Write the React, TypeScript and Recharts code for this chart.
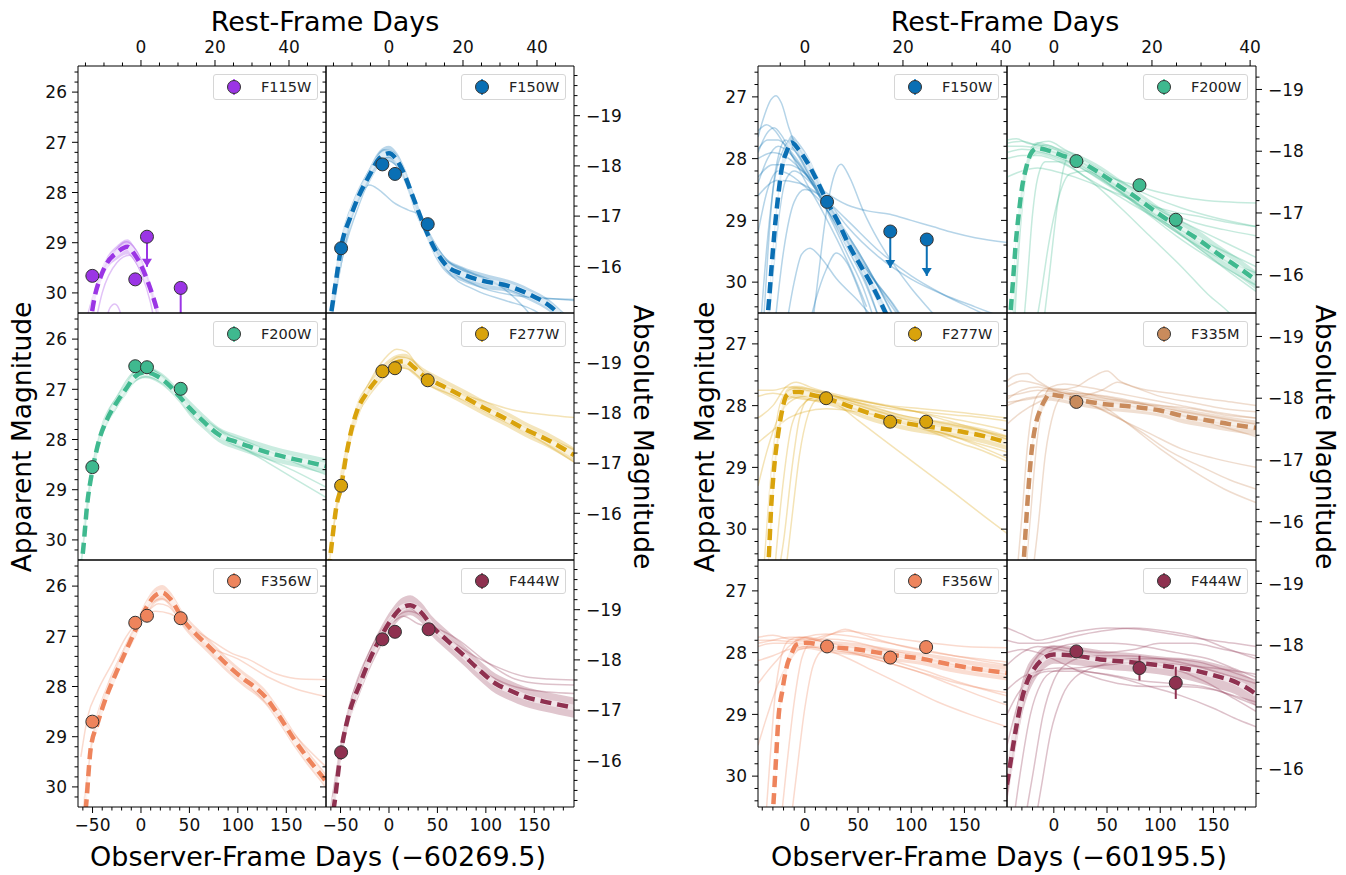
import React from 'react';
import { ComposedChart, Line, Area, Scatter, ErrorBar, XAxis, YAxis } from 'recharts';

type Pair = [number, number];
type Trip = [number, number, number];

// filter colours
const C115 = '#9b35e5';
const C150 = '#0a6fb4';
const C200 = '#3fb98f';
const C277 = '#d9a30c';
const C335 = '#c98b5c';
const C356 = '#ee845c';
const C444 = '#8f3150';

// axis ranges / ticks
const leftObsRange: Pair = [-65, 191];
const leftRestRange: Pair = [-17.02, 50.0];
const leftAppRange: Pair = [25.48, 30.4];
const leftAbsRange: Pair = [-19.99, -15.07];
const rightObsRange: Pair = [-44, 190];
const rightRestRange: Pair = [-9.54, 41.2];
const rightAppRange: Pair = [26.5, 30.5];
const rightAbsRange: Pair = [-19.38, -15.38];

const leftObsTicks = [-50, 0, 50, 100, 150];
const rightObsTicks = [0, 50, 100, 150];
const restTicks = [0, 20, 40];
const leftAppTicks = [26, 27, 28, 29, 30];
const rightAppTicks = [27, 28, 29, 30];
const absTicks = [-19, -18, -17, -16];

// ---------- left object: observer days - 60269.5 ----------
// medians: [day, mag, half width of band]
const l115Median: Trip[] = [[-53, 30.7, 0.1], [-48, 30.1, 0.12], [-42, 29.7, 0.12], [-35, 29.4, 0.12], [-25, 29.2, 0.14], [-14, 29.08, 0.15], [-6, 29.25, 0.15], [0, 29.45, 0.15], [6, 29.72, 0.14], [12, 30.05, 0.12], [18, 30.45, 0.12], [23, 30.9, 0.1]];
const l115Obs: Trip[] = [[-50.2, 29.66, 0.05], [-5.9, 29.73, 0.09]];
const l115Limits: Trip[] = [[6.2, 28.88, 0.6], [41, 29.9, 1.0]];
const l115Samples: Pair[][] = [
  [[-60, 30.8], [-45, 29.8], [-30, 29.25], [-15, 28.98], [-5, 29.15], [5, 29.6], [15, 30.3], [22, 30.9]],
  [[-40, 30.9], [-32, 30.3], [-27, 30.22], [-22, 30.35], [-17, 30.9]],
  [[-50, 30.9], [-40, 30.0], [-25, 29.4], [-12, 29.25], [0, 29.6], [10, 30.2], [16, 30.8]],
];

const l150Median: Trip[] = [[-62, 30.7, 0.1], [-55, 29.8, 0.12], [-49, 29.05, 0.12], [-40, 28.5, 0.12], [-33, 28.15, 0.12], [-20, 27.65, 0.15], [-10, 27.32, 0.15], [0, 27.22, 0.15], [8, 27.35, 0.15], [15, 27.6, 0.15], [25, 28.1, 0.12], [37, 28.7, 0.12], [48, 29.15, 0.15], [58, 29.43, 0.15], [75, 29.62, 0.15], [97, 29.76, 0.15], [123, 29.86, 0.12], [145, 30.03, 0.12], [166, 30.26, 0.12], [180, 30.5, 0.12], [191, 30.7, 0.12]];
const l150Obs: Trip[] = [[-49.4, 29.11, 0.06], [-6.8, 27.44, 0.05], [6.2, 27.63, 0.05], [40, 28.63, 0.05]];
const l150Samples: Pair[][] = [
  [[-62, 30.9], [-50, 29.4], [-35, 28.3], [-20, 27.85], [-10, 27.95], [5, 28.2], [20, 28.35], [32, 28.45], [45, 28.95], [60, 29.45], [90, 29.85], [130, 30.05], [160, 30.1], [191, 30.15]],
  [[-62, 30.6], [-50, 29.0], [-35, 28.1], [-20, 27.55], [-5, 27.15], [5, 27.2], [15, 27.5], [30, 28.3], [45, 28.95], [60, 29.35], [90, 29.65], [120, 29.9], [150, 30.1], [175, 30.12], [191, 30.13]],
  [[-60, 30.5], [-48, 29.3], [-30, 28.2], [-15, 27.55], [0, 27.3], [12, 27.55], [25, 28.15], [40, 28.8], [60, 29.55], [90, 29.95], [120, 30.15], [150, 30.35], [175, 30.7]],
  [[-58, 30.4], [-45, 29.0], [-25, 27.9], [-5, 27.35], [10, 27.5], [30, 28.5], [50, 29.2], [80, 29.55], [110, 29.8], [140, 30.3], [160, 30.8]],
];

const l200Median: Trip[] = [[-64, 30.6, 0.1], [-61, 30.4, 0.1], [-55, 29.2, 0.1], [-50, 28.6, 0.1], [-43, 28.0, 0.1], [-35, 27.6, 0.12], [-24, 27.23, 0.12], [-15, 26.98, 0.12], [-7, 26.76, 0.12], [4, 26.66, 0.12], [15, 26.72, 0.12], [28, 26.9, 0.12], [40, 27.15, 0.12], [50, 27.37, 0.15], [65, 27.65, 0.15], [80, 27.9, 0.15], [100, 28.06, 0.15], [115, 28.16, 0.15], [135, 28.28, 0.15], [158, 28.39, 0.15], [175, 28.46, 0.15], [191, 28.53, 0.15]];
const l200Obs: Trip[] = [[-50.2, 28.55, 0.05], [-5.9, 26.54, 0.04], [6.2, 26.56, 0.04], [41, 26.99, 0.04]];
const l200Samples: Pair[][] = [
  [[-62, 30.5], [-50, 28.5], [-40, 27.7], [-25, 27.15], [-10, 26.7], [3, 26.58], [15, 26.65], [30, 26.9], [45, 27.25], [60, 27.55], [80, 27.82], [100, 28.1], [130, 28.45], [160, 28.8], [191, 29.15]],
  [[-62, 30.5], [-50, 28.7], [-40, 27.9], [-25, 27.35], [-10, 26.9], [5, 26.75], [20, 26.85], [35, 27.1], [50, 27.45], [70, 27.8], [90, 28.05], [120, 28.3], [150, 28.55], [191, 28.95]],
  [[-60, 29.9], [-50, 28.5], [-38, 27.65], [-20, 27.05], [-5, 26.65], [8, 26.6], [25, 26.78], [45, 27.2], [60, 27.5], [85, 27.85], [110, 28.05], [140, 28.3], [170, 28.55], [191, 28.7]],
];

const l277Median: Trip[] = [[-62, 30.6, 0.12], [-58, 29.9, 0.15], [-54, 29.3, 0.15], [-50, 29.0, 0.15], [-44, 28.3, 0.15], [-38, 27.75, 0.15], [-33, 27.43, 0.15], [-22, 27.05, 0.15], [-11, 26.77, 0.15], [0, 26.55, 0.15], [10, 26.45, 0.15], [17, 26.44, 0.15], [25, 26.55, 0.15], [35, 26.72, 0.15], [45, 26.83, 0.15], [60, 26.98, 0.15], [80, 27.18, 0.15], [97, 27.36, 0.15], [120, 27.58, 0.15], [140, 27.79, 0.15], [165, 28.02, 0.15], [191, 28.31, 0.15]];
const l277Obs: Trip[] = [[-49.4, 28.92, 0.06], [-6.8, 26.64, 0.04], [6.2, 26.58, 0.04], [40, 26.82, 0.04]];
const l277Samples: Pair[][] = [
  [[-62, 30.5], [-50, 28.8], [-35, 27.5], [-20, 26.85], [-5, 26.4], [8, 26.2], [18, 26.25], [30, 26.55], [45, 26.8], [70, 27.05], [100, 27.25], [130, 27.42], [160, 27.5], [191, 27.56]],
  [[-60, 30.2], [-48, 28.5], [-35, 27.6], [-20, 27.0], [-5, 26.6], [10, 26.35], [22, 26.4], [40, 26.75], [70, 27.05], [100, 27.35], [140, 27.75], [191, 28.2]],
  [[-62, 30.3], [-50, 28.95], [-40, 28.05], [-25, 27.2], [-10, 26.8], [5, 26.55], [20, 26.6], [40, 26.9], [70, 27.15], [110, 27.55], [150, 27.95], [191, 28.45]],
];

const l356Median: Trip[] = [[-59, 30.8, 0.1], [-56.8, 30.4, 0.1], [-52, 29.25, 0.12], [-45, 28.75, 0.12], [-37, 28.27, 0.12], [-25, 27.7, 0.12], [-15, 27.27, 0.12], [-5, 26.85, 0.15], [6, 26.41, 0.15], [14, 26.2, 0.15], [22, 26.13, 0.15], [30, 26.25, 0.15], [45, 26.71, 0.15], [58, 26.98, 0.15], [71, 27.22, 0.15], [88, 27.55, 0.15], [106, 27.85, 0.15], [118, 28.02, 0.15], [128, 28.2, 0.15], [143, 28.6, 0.15], [158, 29.05, 0.15], [173, 29.45, 0.15], [189, 29.84, 0.15], [195, 30.0, 0.15]];
const l356Obs: Trip[] = [[-50.2, 28.7, 0.05], [-5.9, 26.73, 0.05], [6.2, 26.59, 0.05], [41, 26.64, 0.05]];
const l356Samples: Pair[][] = [
  [[-62, 29.4], [-55, 28.6], [-45, 28.1], [-30, 27.55], [-15, 27.0], [0, 26.65], [15, 26.5], [30, 26.55], [45, 26.75], [70, 27.05], [95, 27.35], [110, 27.45], [140, 27.75], [165, 27.85], [191, 27.86]],
  [[-60, 30.6], [-52, 29.3], [-40, 28.35], [-25, 27.6], [-10, 26.95], [5, 26.55], [18, 26.35], [28, 26.4], [45, 26.8], [70, 27.2], [100, 27.45], [130, 27.8], [160, 28.05], [191, 28.2]],
  [[-60, 30.5], [-50, 29.0], [-35, 28.0], [-20, 27.35], [-5, 26.8], [10, 26.35], [22, 26.25], [35, 26.45], [50, 26.85], [80, 27.45], [110, 27.95], [140, 28.55], [170, 29.2], [191, 29.6]],
];

const l444Median: Trip[] = [[-60, 30.8, 0.12], [-56.8, 30.4, 0.15], [-50, 29.35, 0.2], [-42, 28.6, 0.2], [-30, 27.95, 0.2], [-20, 27.47, 0.2], [-8, 27.0, 0.2], [2, 26.68, 0.2], [12, 26.45, 0.2], [22, 26.38, 0.2], [32, 26.5, 0.2], [45, 26.81, 0.2], [60, 27.08, 0.2], [75, 27.34, 0.2], [92, 27.65, 0.2], [110, 27.94, 0.2], [125, 28.08, 0.2], [140, 28.2, 0.2], [160, 28.3, 0.2], [175, 28.36, 0.2], [191, 28.42, 0.2]];
const l444Obs: Trip[] = [[-49.4, 29.31, 0.06], [-6.8, 27.06, 0.05], [6.2, 26.91, 0.05], [40.9, 26.86, 0.05]];
const l444Samples: Pair[][] = [
  [[-60, 30.4], [-50, 29.2], [-40, 28.4], [-25, 27.6], [-10, 27.0], [5, 26.65], [20, 26.5], [35, 26.6], [55, 26.95], [80, 27.3], [110, 27.6], [140, 27.8], [165, 27.85], [191, 27.87]],
  [[-62, 30.9], [-52, 29.6], [-40, 28.55], [-25, 27.7], [-10, 27.05], [5, 26.7], [15, 26.6], [30, 26.75], [50, 26.85], [70, 27.05], [100, 27.5], [130, 27.85], [160, 27.95], [191, 27.97]],
  [[-58, 30.2], [-48, 29.0], [-35, 28.0], [-20, 27.3], [-5, 26.8], [10, 26.5], [20, 26.42], [30, 26.55], [50, 26.95], [80, 27.45], [110, 27.85], [140, 28.05], [191, 28.14]],
];

// ---------- right object: observer days - 60195.5 ----------
const r150Median: Trip[] = [[-38, 31.0, 0.05], [-34.4, 30.45, 0.08], [-31, 29.7, 0.1], [-28, 29.09, 0.1], [-25, 28.6, 0.1], [-21.8, 28.17, 0.12], [-17, 27.88, 0.12], [-12.5, 27.74, 0.12], [-6, 27.85, 0.12], [2, 28.05, 0.12], [11, 28.34, 0.1], [21, 28.7, 0.1], [32, 29.05, 0.1], [42, 29.42, 0.1], [52, 29.72, 0.1], [63, 30.05, 0.1], [73, 30.39, 0.1], [80, 30.65, 0.1]];
const r150Obs: Trip[] = [[20.9, 28.7, 0.05]];
const r150Limits: Trip[] = [[80.3, 29.18, 0.59], [114.6, 29.31, 0.59]];
const r150Samples: Pair[][] = [
  [[-44, 27.65], [-38, 27.3], [-32, 27.05], [-27, 26.98], [-22, 27.1], [-15, 27.5], [-5, 27.95], [10, 28.45], [25, 28.95], [40, 29.45], [55, 29.95], [70, 30.6]],
  [[-44, 27.55], [-36, 27.45], [-28, 27.55], [-20, 27.75], [-10, 28.0], [5, 28.35], [20, 28.7], [35, 29.1], [50, 29.5], [65, 29.95], [80, 30.45], [90, 30.8]],
  [[-44, 28.3], [-30, 28.1], [-15, 28.1], [-5, 28.17], [20, 28.55], [40, 28.75], [60, 28.85], [80, 28.9], [100, 29.0], [120, 29.1], [140, 29.2], [160, 29.28], [190, 29.36]],
  [[5, 31.0], [12, 30.0], [20, 28.9], [28, 28.25], [34, 28.09], [42, 28.3], [55, 28.85], [70, 29.35], [85, 29.75], [100, 30.1], [120, 30.5], [140, 30.9]],
  [[0, 31.0], [10, 30.3], [20, 29.8], [29.5, 29.53], [40, 29.7], [50, 30.1], [60, 30.6]],
  [[-44, 28.4], [-35, 28.0], [-25, 27.8], [-15, 27.9], [-5, 28.1], [10, 28.5], [25, 29.0], [40, 29.55], [55, 30.1], [65, 30.6]],
  [[-44, 29.2], [-35, 28.5], [-25, 28.2], [-15, 28.25], [0, 28.45], [15, 28.7], [30, 29.05], [50, 29.6], [70, 30.1], [90, 30.6]],
  [[-42, 30.8], [-35, 29.3], [-28, 28.3], [-20, 27.85], [-12, 27.7], [-5, 27.85], [5, 28.15], [20, 28.65], [35, 29.15], [50, 29.7], [62, 30.2], [70, 30.6]],
  [[-30, 31.0], [-20, 29.5], [-10, 28.7], [0, 28.5], [10, 28.55], [25, 28.85], [45, 29.4], [65, 29.95], [85, 30.4], [100, 30.8]],
  [[-44, 27.85], [-35, 27.7], [-25, 27.7], [-15, 27.85], [0, 28.2], [20, 28.8], [40, 29.35], [60, 29.85], [80, 30.3], [95, 30.7]],
  [[-44, 28.0], [-30, 27.9], [-15, 28.0], [0, 28.25], [20, 28.65], [40, 29.1], [70, 29.6], [100, 29.95], [130, 30.2], [160, 30.4], [190, 30.6]],
  [[-20, 31.0], [-10, 30.0], [-3, 29.55], [5, 29.45], [15, 29.6], [30, 29.95], [50, 30.3], [70, 30.7]],
  [[-44, 28.6], [-25, 28.35], [-5, 28.4], [15, 28.6], [40, 29.0], [70, 29.5], [100, 29.9], [130, 30.2], [160, 30.45], [190, 30.7]],
  [[-40, 31.0], [-35, 29.6], [-30, 28.5], [-24, 27.9], [-18, 27.7], [-10, 27.85], [0, 28.15], [15, 28.55], [30, 28.95], [50, 29.5], [70, 30.1], [85, 30.6]],
  [[-44, 27.9], [-36, 27.6], [-29, 27.5], [-22, 27.62], [-12, 27.95], [0, 28.35], [15, 28.8], [30, 29.3], [45, 29.85], [58, 30.4]],
  [[-36, 31.0], [-30, 29.9], [-24, 28.9], [-18, 28.35], [-10, 28.2], [0, 28.3], [15, 28.6], [35, 29.2], [55, 29.8], [75, 30.4]],
];

const r200Median: Trip[] = [[-43, 31.0, 0.05], [-40.7, 30.5, 0.05], [-38, 29.9, 0.08], [-36, 29.42, 0.1], [-33, 28.9, 0.1], [-29.7, 28.45, 0.1], [-26, 28.15, 0.1], [-22, 27.93, 0.1], [-15.7, 27.83, 0.1], [-5, 27.87, 0.1], [8, 27.95, 0.1], [21, 28.02, 0.1], [40, 28.2, 0.12], [60, 28.43, 0.12], [75, 28.6, 0.12], [95, 28.85, 0.12], [115.5, 29.09, 0.12], [135, 29.3, 0.15], [155, 29.55, 0.15], [175, 29.78, 0.15], [190, 29.97, 0.15]];
const r200Obs: Trip[] = [[21.2, 28.04, 0.05], [80.5, 28.43, 0.06], [114.6, 28.99, 0.06]];
const r200Samples: Pair[][] = [
  [[-44, 27.7], [-35, 27.68], [-25, 27.75], [-15, 27.78], [0, 27.85], [20, 28.0], [45, 28.25], [70, 28.4], [100, 28.55], [130, 28.65], [160, 28.7], [190, 28.72]],
  [[-44, 27.75], [-30, 27.72], [-15, 27.8], [0, 27.9], [20, 28.05], [45, 28.3], [75, 28.6], [105, 28.85], [135, 29.05], [160, 29.15], [190, 29.25]],
  [[-44, 27.9], [-30, 27.85], [-15, 27.88], [5, 27.98], [25, 28.15], [50, 28.4], [80, 28.75], [110, 29.05], [140, 29.4], [165, 29.7], [190, 30.0]],
  [[-12, 31.0], [-5, 30.0], [3, 28.8], [10, 28.1], [15, 27.95], [25, 28.05], [50, 28.35], [80, 28.7], [110, 29.1], [140, 29.5], [170, 29.9], [190, 30.15]],
  [[-44, 28.0], [-30, 27.95], [-15, 27.95], [5, 28.05], [30, 28.3], [60, 28.75], [90, 29.25], [120, 29.75], [145, 30.2], [165, 30.5], [175, 30.7]],
  [[-40, 31.0], [-35, 29.7], [-30, 28.6], [-25, 28.05], [-18, 27.82], [-8, 27.78], [10, 27.9], [35, 28.15], [65, 28.5], [95, 28.8], [130, 29.1], [160, 29.35], [190, 29.6]],
  [[-30, 31.0], [-25, 30.0], [-20, 28.9], [-15, 28.3], [-8, 28.05], [5, 28.05], [30, 28.3], [60, 28.6], [95, 28.95], [130, 29.25], [160, 29.5], [190, 29.75]],
  [[-44, 28.3], [-30, 28.2], [-15, 28.15], [0, 28.2], [20, 28.3], [50, 28.5], [80, 28.7], [110, 28.85], [140, 28.95], [170, 29.05], [190, 29.1]],
  [[-38, 31.0], [-33, 29.5], [-28, 28.5], [-22, 27.95], [-15, 27.75], [-5, 27.72], [10, 27.85], [30, 28.05], [60, 28.35], [90, 28.6], [120, 28.8], [150, 28.95], [190, 29.1]],
  [[-20, 31.0], [-12, 30.2], [-5, 29.4], [5, 28.6], [15, 28.25], [30, 28.2], [55, 28.45], [85, 28.85], [115, 29.25], [150, 29.65], [190, 30.05]],
  [[-44, 27.8], [-30, 27.8], [-10, 27.85], [10, 27.95], [35, 28.2], [65, 28.55], [95, 28.95], [125, 29.3], [155, 29.6], [190, 29.85]],
];

const r277Median: Trip[] = [[-36, 31.0, 0.05], [-34, 30.5, 0.08], [-31.5, 29.6, 0.1], [-28.7, 28.98, 0.1], [-25, 28.45, 0.1], [-21, 28.05, 0.1], [-17.3, 27.84, 0.1], [-10, 27.78, 0.1], [-5, 27.78, 0.1], [5, 27.82, 0.1], [20, 27.88, 0.1], [40, 28.0, 0.1], [60, 28.12, 0.12], [80, 28.22, 0.12], [100, 28.3, 0.12], [120, 28.35, 0.12], [150, 28.43, 0.12], [170, 28.5, 0.12], [190, 28.6, 0.12]];
const r277Obs: Trip[] = [[20, 27.88, 0.05], [80.2, 28.26, 0.06], [114, 28.26, 0.06]];
const r277Samples: Pair[][] = [
  [[-44, 27.75], [-30, 27.75], [-15, 27.7], [0, 27.72], [20, 27.8], [50, 27.95], [80, 28.05], [110, 28.1], [140, 28.15], [170, 28.2], [190, 28.25]],
  [[-44, 27.85], [-30, 27.8], [-15, 27.85], [0, 27.9], [25, 27.95], [55, 28.1], [85, 28.25], [115, 28.4], [145, 28.6], [170, 28.75], [190, 28.9]],
  [[-30, 31.0], [-22, 29.5], [-12, 28.3], [0, 27.95], [12, 27.85], [28, 27.95], [50, 28.24], [80, 28.63], [110, 29.02], [140, 29.41], [170, 29.81], [190, 30.07]],
  [[-28, 31.0], [-20, 30.2], [-12, 29.0], [-5, 28.2], [3, 27.9], [15, 27.85], [40, 27.95], [70, 28.1], [100, 28.25], [130, 28.35], [160, 28.45], [190, 28.55]],
  [[-44, 28.2], [-30, 28.0], [-18, 27.7], [-8, 27.62], [5, 27.7], [25, 27.8], [50, 27.9], [80, 28.0], [110, 28.05], [140, 28.1], [190, 28.2]],
  [[-40, 31.0], [-35, 29.8], [-30, 28.8], [-25, 28.1], [-18, 27.8], [-8, 27.72], [10, 27.82], [35, 27.98], [65, 28.15], [95, 28.3], [130, 28.45], [160, 28.6], [190, 28.75]],
  [[-44, 28.6], [-30, 28.4], [-15, 28.2], [0, 28.1], [20, 28.05], [50, 28.1], [80, 28.2], [110, 28.35], [140, 28.5], [170, 28.7], [190, 28.85]],
  [[-20, 31.0], [-12, 29.8], [-5, 28.8], [3, 28.15], [12, 27.9], [30, 27.88], [60, 28.0], [90, 28.15], [120, 28.25], [150, 28.35], [190, 28.5]],
  [[-44, 29.3], [-35, 28.7], [-25, 28.2], [-15, 27.95], [0, 27.85], [20, 27.85], [45, 27.9], [75, 28.0], [105, 28.1], [135, 28.25], [165, 28.4], [190, 28.55]],
  [[-36, 31.0], [-32, 30.0], [-28, 29.0], [-22, 28.2], [-15, 27.85], [-5, 27.75], [10, 27.78], [30, 27.85], [60, 27.95], [90, 28.05], [120, 28.15], [150, 28.25], [190, 28.4]],
];

const r335Median: Trip[] = [[-30, 31.0, 0.05], [-28.2, 30.5, 0.05], [-24.5, 29.5, 0.08], [-21, 28.76, 0.1], [-17, 28.3, 0.1], [-12.6, 28.06, 0.1], [-8, 27.9, 0.1], [-4.8, 27.82, 0.1], [5, 27.84, 0.1], [21, 27.9, 0.1], [45, 27.97, 0.1], [75, 28.02, 0.1], [100, 28.08, 0.1], [122, 28.17, 0.12], [145, 28.24, 0.12], [165, 28.3, 0.12], [190, 28.36, 0.12]];
const r335Obs: Trip[] = [[21.2, 27.94, 0.05]];
const r335Samples: Pair[][] = [
  [[-44, 27.9], [-30, 27.75], [-15, 27.7], [0, 27.75], [20, 27.7], [35, 27.55], [50, 27.44], [62, 27.6], [80, 27.72], [110, 27.8], [140, 27.88], [170, 27.95], [190, 28.0]],
  [[-44, 27.7], [-30, 27.6], [-15, 27.65], [0, 27.75], [20, 27.85], [45, 28.0], [70, 28.3], [100, 28.7], [130, 29.05], [160, 29.35], [190, 29.57]],
  [[-44, 27.6], [-35, 27.5], [-25, 27.48], [-15, 27.6], [0, 27.75], [25, 27.85], [55, 27.95], [85, 28.05], [115, 28.15], [145, 28.25], [190, 28.4]],
  [[-22, 31.0], [-15, 30.0], [-8, 28.8], [0, 28.1], [8, 27.85], [20, 27.8], [45, 27.85], [75, 27.95], [105, 28.05], [140, 28.15], [190, 28.3]],
  [[-44, 28.0], [-30, 27.9], [-15, 27.85], [0, 27.8], [20, 27.8], [50, 27.85], [80, 27.95], [110, 28.1], [140, 28.25], [170, 28.4], [190, 28.5]],
  [[-28, 31.0], [-22, 29.8], [-16, 28.6], [-10, 27.95], [-3, 27.7], [10, 27.65], [30, 27.7], [60, 27.8], [90, 27.9], [120, 28.0], [150, 28.1], [190, 28.2]],
  [[-44, 27.85], [-30, 27.8], [-15, 27.75], [5, 27.8], [30, 27.95], [60, 28.2], [90, 28.45], [120, 28.7], [150, 28.85], [190, 29.0]],
  [[-36, 31.0], [-30, 29.8], [-25, 28.7], [-20, 28.05], [-14, 27.8], [-5, 27.72], [15, 27.75], [40, 27.85], [70, 27.95], [100, 28.0], [130, 28.05], [160, 28.15], [190, 28.2]],
  [[-44, 28.3], [-30, 28.1], [-15, 27.95], [0, 27.85], [20, 27.85], [45, 27.75], [60, 27.62], [75, 27.7], [100, 27.85], [130, 27.95], [160, 28.05], [190, 28.1]],
  [[-44, 27.95], [-25, 27.9], [-5, 27.85], [20, 27.9], [50, 28.1], [80, 28.4], [110, 28.75], [140, 29.0], [165, 29.2], [190, 29.35]],
];

const r356Median: Trip[] = [[-32, 31.0, 0.05], [-29.7, 30.5, 0.05], [-27, 29.7, 0.08], [-25, 29.11, 0.1], [-21, 28.6, 0.1], [-17.2, 28.24, 0.1], [-12, 28.0, 0.1], [-7.9, 27.87, 0.1], [1.6, 27.84, 0.1], [21, 27.9, 0.1], [50, 27.95, 0.1], [80, 28.03, 0.1], [110, 28.1, 0.1], [136, 28.19, 0.12], [160, 28.26, 0.12], [190, 28.33, 0.12]];
const r356Obs: Trip[] = [[20.9, 27.9, 0.05], [80.3, 28.08, 0.05], [114, 27.91, 0.06]];
const r356Samples: Pair[][] = [
  [[-44, 27.75], [-30, 27.72], [-15, 27.78], [0, 27.8], [20, 27.72], [40, 27.65], [60, 27.7], [90, 27.78], [120, 27.85], [150, 27.9], [190, 27.92]],
  [[-44, 27.9], [-30, 27.85], [-10, 27.85], [10, 27.9], [35, 28.05], [65, 28.3], [95, 28.55], [125, 28.8], [155, 29.0], [190, 29.2]],
  [[-44, 28.13], [-30, 28.05], [-15, 27.95], [0, 27.9], [25, 27.95], [55, 28.05], [85, 28.2], [115, 28.35], [145, 28.5], [190, 28.65]],
  [[-24, 31.0], [-18, 30.0], [-10, 28.8], [-3, 28.1], [5, 27.85], [20, 27.78], [45, 27.82], [75, 27.95], [105, 28.05], [140, 28.2], [190, 28.35]],
  [[-44, 28.5], [-35, 28.3], [-25, 28.1], [-15, 27.9], [0, 27.75], [20, 27.7], [50, 27.75], [80, 27.85], [110, 27.95], [140, 28.05], [190, 28.2]],
  [[-38, 31.0], [-33, 29.8], [-28, 28.7], [-22, 28.05], [-15, 27.8], [-5, 27.75], [15, 27.82], [40, 27.9], [70, 28.0], [100, 28.1], [130, 28.2], [160, 28.28], [190, 28.35]],
  [[-44, 27.8], [-30, 27.8], [-10, 27.82], [10, 27.8], [25, 27.7], [38, 27.62], [50, 27.68], [75, 27.82], [105, 27.95], [140, 28.05], [190, 28.15]],
  [[-44, 29.5], [-35, 29.0], [-25, 28.5], [-15, 28.15], [-5, 27.95], [15, 27.9], [45, 27.98], [75, 28.1], [105, 28.25], [140, 28.45], [190, 28.7]],
  [[-15, 31.0], [-8, 30.0], [0, 28.9], [8, 28.2], [18, 27.95], [35, 27.9], [65, 27.95], [95, 28.05], [125, 28.15], [160, 28.25], [190, 28.3]],
  [[-44, 27.85], [-30, 27.8], [-15, 27.75], [0, 27.75], [20, 27.85], [45, 28.0], [75, 28.15], [105, 28.3], [135, 28.5], [165, 28.7], [190, 28.85]],
];

const r444Median: Trip[] = [[-44, 30.14, 0.3], [-40, 29.7, 0.3], [-34.4, 29.12, 0.3], [-30, 28.75, 0.28], [-25, 28.47, 0.25], [-18, 28.25, 0.2], [-9.5, 28.09, 0.18], [0, 28.03, 0.15], [20, 28.05, 0.15], [43.6, 28.11, 0.15], [75, 28.16, 0.15], [106, 28.22, 0.15], [130, 28.28, 0.18], [153, 28.38, 0.2], [170, 28.47, 0.2], [184, 28.6, 0.2], [190, 28.67, 0.2]];
const r444Obs: Trip[] = [[21.2, 27.98, 0.05], [80.5, 28.25, 0.2], [114.6, 28.49, 0.26]];
const r444Samples: Pair[][] = [
  [[-44, 27.6], [-30, 27.7], [-15, 27.8], [0, 27.75], [25, 27.65], [50, 27.6], [80, 27.62], [110, 27.7], [140, 27.78], [170, 27.85], [190, 27.9]],
  [[-44, 27.8], [-30, 27.85], [-10, 27.85], [15, 27.75], [45, 27.65], [75, 27.6], [105, 27.65], [135, 27.75], [165, 27.95], [190, 28.1]],
  [[-44, 28.6], [-30, 28.4], [-15, 28.3], [5, 28.25], [30, 28.3], [60, 28.4], [90, 28.55], [120, 28.7], [150, 28.9], [175, 29.1], [190, 29.2]],
  [[-30, 31.0], [-20, 30.0], [-10, 29.0], [0, 28.45], [15, 28.15], [35, 28.05], [65, 28.05], [100, 28.1], [130, 28.2], [160, 28.35], [190, 28.5]],
  [[-44, 29.0], [-35, 28.7], [-20, 28.4], [-5, 28.3], [20, 28.3], [50, 28.35], [80, 28.45], [110, 28.5], [140, 28.55], [170, 28.7], [190, 28.8]],
  [[-44, 30.3], [-35, 29.3], [-25, 28.6], [-15, 28.2], [0, 27.95], [25, 27.85], [55, 27.85], [85, 27.9], [115, 28.0], [145, 28.1], [175, 28.3], [190, 28.4]],
  [[-40, 31.0], [-32, 30.0], [-22, 29.0], [-12, 28.5], [0, 28.3], [20, 28.25], [50, 28.2], [80, 28.15], [110, 28.25], [140, 28.45], [170, 28.75], [190, 28.95]],
  [[-44, 28.2], [-30, 28.0], [-15, 27.9], [5, 27.95], [30, 28.05], [60, 28.1], [90, 28.15], [120, 28.2], [150, 28.25], [190, 28.35]],
  [[-20, 31.0], [-12, 30.2], [-3, 29.3], [8, 28.7], [20, 28.4], [45, 28.2], [75, 28.1], [105, 28.1], [135, 28.15], [165, 28.3], [190, 28.45]],
  [[-44, 29.5], [-35, 28.9], [-25, 28.35], [-15, 28.05], [0, 27.9], [20, 27.95], [45, 28.0], [75, 27.95], [100, 27.85], [130, 27.85], [160, 27.95], [190, 28.05]],
  [[-44, 28.0], [-30, 27.95], [-15, 28.0], [5, 28.15], [30, 28.35], [60, 28.5], [90, 28.55], [120, 28.55], [150, 28.6], [175, 28.75], [190, 28.85]],
];

// ---------- layout ----------
const FONT = "'DejaVu Sans', sans-serif";
const ROW_TOP = [66, 313, 560];
const ROW_H = 247;
const PAD = 60;
const AX = 1; // axes need a non-zero size to be drawn

const steps = (a: number, b: number, s: number) => {
  const out: number[] = [];
  for (let k = 0; a + k * s <= b + 1e-9; k++) out.push(Math.round((a + k * s) * 1000) / 1000);
  return out;
};

const figs = [
  {
    cols: [78, 326], w: 248,
    obs: leftObsRange, rest: leftRestRange, app: leftAppRange, abs: leftAbsRange,
    obsMajor: leftObsTicks, obsAll: steps(-60, 180, 10),
    restAll: steps(-15, 45, 5),
    appMajor: leftAppTicks, appAll: steps(25.6, 30.2, 0.2),
    absAll: steps(-19.8, -15.2, 0.2),
    panels: [
      { name: 'F115W', color: C115, samples: l115Samples, median: l115Median, obs: l115Obs, limits: l115Limits },
      { name: 'F150W', color: C150, samples: l150Samples, median: l150Median, obs: l150Obs, limits: [] },
      { name: 'F200W', color: C200, samples: l200Samples, median: l200Median, obs: l200Obs, limits: [] },
      { name: 'F277W', color: C277, samples: l277Samples, median: l277Median, obs: l277Obs, limits: [] },
      { name: 'F356W', color: C356, samples: l356Samples, median: l356Median, obs: l356Obs, limits: [] },
      { name: 'F444W', color: C444, samples: l444Samples, median: l444Median, obs: l444Obs, limits: [] },
    ],
  },
  {
    cols: [758, 1007], w: 249,
    obs: rightObsRange, rest: rightRestRange, app: rightAppRange, abs: rightAbsRange,
    obsMajor: rightObsTicks, obsAll: steps(-40, 180, 10),
    restAll: steps(-5, 40, 5),
    appMajor: rightAppTicks, appAll: steps(26.6, 30.4, 0.2),
    absAll: steps(-19.2, -15.6, 0.2),
    panels: [
      { name: 'F150W', color: C150, samples: r150Samples, median: r150Median, obs: r150Obs, limits: r150Limits },
      { name: 'F200W', color: C200, samples: r200Samples, median: r200Median, obs: r200Obs, limits: [] },
      { name: 'F277W', color: C277, samples: r277Samples, median: r277Median, obs: r277Obs, limits: [] },
      { name: 'F335M', color: C335, samples: r335Samples, median: r335Median, obs: r335Obs, limits: [] },
      { name: 'F356W', color: C356, samples: r356Samples, median: r356Median, obs: r356Obs, limits: [] },
      { name: 'F444W', color: C444, samples: r444Samples, median: r444Median, obs: r444Obs, limits: [] },
    ],
  },
];

const fmt = (v: number) => (v < 0 ? '\u2212' + Math.abs(v) : String(v));

// matplotlib-like outward ticks, minor ones shorter, labels only on majors
const makeTick = (side: string, majors: number[], labels: boolean) => (props: any) => {
  const { x, y, payload } = props;
  const v = payload.value as number;
  const major = majors.some((m) => Math.abs(m - v) < 1e-6);
  const len = major ? 6 : 3.5;
  const show = labels && major;
  const ts = { fontSize: 17, fontFamily: FONT, fill: '#111' };
  if (side === 'left')
    return (
      <g>
        <line x1={x - len} x2={x} y1={y} y2={y} stroke="#000" />
        {show && <text x={x - 11} y={y + 6.2} textAnchor="end" {...ts}>{fmt(v)}</text>}
      </g>
    );
  if (side === 'right')
    return (
      <g>
        <line x1={x} x2={x + len} y1={y} y2={y} stroke="#000" />
        {show && <text x={x + 12} y={y + 6.2} textAnchor="start" {...ts}>{fmt(v)}</text>}
      </g>
    );
  if (side === 'top')
    return (
      <g>
        <line x1={x} x2={x} y1={y - len} y2={y} stroke="#000" />
        {show && <text x={x} y={y - 13} textAnchor="middle" {...ts}>{fmt(v)}</text>}
      </g>
    );
  return (
    <g>
      <line x1={x} x2={x} y1={y} y2={y + len} stroke="#000" />
      {show && <text x={x} y={y + 23.5} textAnchor="middle" {...ts}>{fmt(v)}</text>}
    </g>
  );
};

const LegendBox = ({ name, color, left, top }: any) => (
  <div style={{ position: 'absolute', left, top, width: 105, height: 26, boxSizing: 'border-box', border: '1px solid #d6d6d6', borderRadius: 3, background: 'rgba(255,255,255,0.85)' }}>
    <svg width={40} height={26} style={{ position: 'absolute', left: 0, top: -1 }}>
      <line x1={20} x2={20} y1={5} y2={21} stroke={color} strokeWidth={1.5} />
      <circle cx={20} cy={13} r={6.5} fill={color} stroke="#333" strokeWidth={1} />
    </svg>
    <span style={{ position: 'absolute', left: 47, top: 3, fontSize: 14.5, lineHeight: '18px', fontFamily: FONT, color: '#222' }}>{name}</span>
  </div>
);

function Panel({ fig, p, row, col }: any) {
  const left = fig.cols[col];
  const top = ROW_TOP[row];
  const w = fig.w;
  const h = ROW_H;
  const faint = fig.app[1];
  const band = p.median.map(([day, mag, e]: Trip) => ({ day, band: [mag - e, mag + e] }));
  const med = p.median.map(([day, mag]: Trip) => ({ day, mag }));
  const pts = p.obs.map(([day, mag, err]: Trip) => ({ day, mag, err }));
  // upper-limit stems stop at the panel edge; arrow heads only when inside
  const lims = p.limits.map(([day, mag, len]: Trip) => ({ day, mag, err: [0, Math.min(len, faint - mag)] }));
  const tips = p.limits.filter(([, mag, len]: Trip) => mag + len < faint).map(([day, mag, len]: Trip) => ({ day, mag: mag + len }));
  // the rest-frame axis gets an invisible two-point series so it has a scale
  const restSpan = [{ day: fig.rest[0], mag: fig.app[0] }, { day: fig.rest[1], mag: fig.app[0] }];
  const ax = { xAxisId: 'obs', yAxisId: 'app' };
  const axisLine = { stroke: '#000', strokeWidth: 1 };
  const dot = (s: any) => <circle cx={s.cx} cy={s.cy} r={6.5} fill={p.color} stroke="#333" strokeWidth={1} />;
  const tip = (s: any) => <path d={`M${s.cx - 5},${s.cy - 8} L${s.cx + 5},${s.cy - 8} L${s.cx},${s.cy} Z`} fill={p.color} />;
  const m = PAD - AX;
  return (
    <div style={{ position: 'absolute', left: left - PAD, top: top - PAD }}>
      <ComposedChart width={w + 2 * PAD} height={h + 2 * PAD} margin={{ top: m, right: m, bottom: m, left: m }}>
        <XAxis xAxisId="obs" dataKey="day" type="number" domain={fig.obs} allowDataOverflow orientation="bottom" height={AX}
          ticks={fig.obsAll} interval={0} tickSize={0} tickMargin={0} tickLine={false} axisLine={axisLine}
          tick={row === 2 ? makeTick('bottom', fig.obsMajor, true) : false} />
        <XAxis xAxisId="rest" dataKey="day" type="number" domain={fig.rest} allowDataOverflow orientation="top" height={AX}
          ticks={fig.restAll} interval={0} tickSize={0} tickMargin={0} tickLine={false} axisLine={axisLine}
          tick={row === 0 ? makeTick('top', restTicks, true) : false} />
        <YAxis yAxisId="app" dataKey="mag" type="number" domain={fig.app} reversed allowDataOverflow orientation="left" width={AX}
          ticks={fig.appAll} interval={0} tickSize={0} tickMargin={0} tickLine={false} axisLine={axisLine}
          tick={makeTick('left', fig.appMajor, col === 0)} />
        <YAxis yAxisId="abs" type="number" domain={fig.abs} reversed allowDataOverflow orientation="right" width={AX}
          ticks={fig.absAll} interval={0} tickSize={0} tickMargin={0} tickLine={false} axisLine={axisLine}
          tick={col === 1 ? makeTick('right', absTicks, true) : false} />
        <Line xAxisId="rest" yAxisId="app" data={restSpan} dataKey="mag" stroke="none" strokeOpacity={0}
          dot={false} activeDot={false} isAnimationActive={false} />
        <Area {...ax} data={band} dataKey="band" type="monotone" stroke="none" fill={p.color} fillOpacity={0.28} isAnimationActive={false} />
        {p.samples.map((s: Pair[], i: number) => (
          <Line key={'s' + i} {...ax} data={s.map(([day, mag]) => ({ day, mag }))} dataKey="mag" type="monotone"
            stroke={p.color} strokeOpacity={0.3} strokeWidth={1.5} dot={false} activeDot={false} isAnimationActive={false} />
        ))}
        <Line {...ax} data={med} dataKey="mag" type="monotone" stroke="#ffffff" strokeOpacity={0.55} strokeWidth={6}
          dot={false} activeDot={false} isAnimationActive={false} />
        <Line {...ax} data={med} dataKey="mag" type="monotone" stroke={p.color} strokeWidth={4.5} strokeDasharray="11 6"
          dot={false} activeDot={false} isAnimationActive={false} />
        {lims.length > 0 && (
          <Scatter {...ax} data={lims} dataKey="mag" shape={dot} isAnimationActive={false}>
            <ErrorBar dataKey="err" direction="y" width={0} stroke={p.color} strokeWidth={2} />
          </Scatter>
        )}
        {tips.length > 0 && <Scatter {...ax} data={tips} dataKey="mag" shape={tip} isAnimationActive={false} />}
        <Scatter {...ax} data={pts} dataKey="mag" shape={dot} isAnimationActive={false}>
          <ErrorBar dataKey="err" direction="y" width={0} stroke={p.color} strokeWidth={2} />
        </Scatter>
      </ComposedChart>
      <LegendBox name={p.name} color={p.color} left={PAD + w - 8 - 105} top={PAD + 8} />
    </div>
  );
}

export default function App() {
  const title = { fontSize: 27, fontFamily: FONT, fill: '#000' };
  const vtitle = { fontSize: 26.5, fontFamily: FONT, fill: '#000' };
  return (
    <div style={{ position: 'absolute', left: 0, top: 0, width: 1346, height: 875, background: '#fff', overflow: 'hidden', fontFamily: FONT }}>
      {figs.map((fig, fi) =>
        fig.panels.map((p, i) => <Panel key={fi + '-' + i} fig={fig} p={p} row={Math.floor(i / 2)} col={i % 2} />)
      )}
      <svg width={1346} height={875} style={{ position: 'absolute', left: 0, top: 0, pointerEvents: 'none' }}>
        <text x={325} y={31} textAnchor="middle" {...title}>Rest-Frame Days</text>
        <text x={1005} y={31} textAnchor="middle" {...title}>Rest-Frame Days</text>
        <text x={318} y={866} textAnchor="middle" {...title}>Observer-Frame Days (−60269.5)</text>
        <text x={999} y={866} textAnchor="middle" {...title}>Observer-Frame Days (−60195.5)</text>
        <text transform="translate(31,437) rotate(-90)" textAnchor="middle" {...vtitle}>Apparent Magnitude</text>
        <text transform="translate(714,437) rotate(-90)" textAnchor="middle" {...vtitle}>Apparent Magnitude</text>
        <text transform="translate(634,437) rotate(90)" textAnchor="middle" {...vtitle}>Absolute Magnitude</text>
        <text transform="translate(1316,437) rotate(90)" textAnchor="middle" {...vtitle}>Absolute Magnitude</text>
      </svg>
    </div>
  );
}
